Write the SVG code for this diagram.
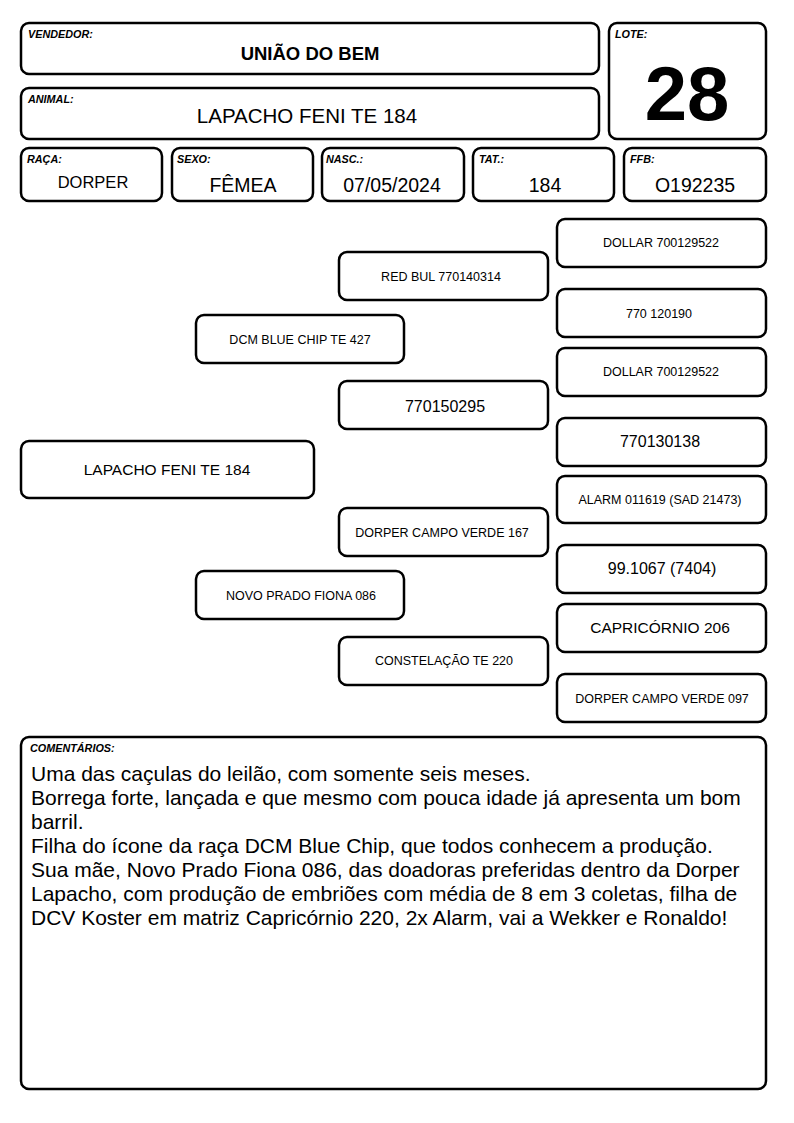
<svg xmlns="http://www.w3.org/2000/svg" width="794" height="1123" viewBox="0 0 794 1123">
<style>
rect{fill:#fff;stroke:#000;stroke-width:2.5}
text{font-family:"Liberation Sans",Arial,sans-serif;fill:#000}
.lb{font-size:10.8px;font-weight:bold;font-style:italic}
.c{text-anchor:middle}
.s{font-size:12.5px}
.m{font-size:15.5px}
.v{font-size:19.5px}
</style>
<rect width="794" height="1123" style="fill:#fff;stroke:none"/>
<g id="vendedor"><rect x="21" y="23" width="578" height="51" rx="8"/><text class="lb" x="28" y="38">VENDEDOR:</text><text x="310" y="60" class="c" style="font-size:18.5px;font-weight:bold">UNIÃO DO BEM</text></g>
<g id="animal"><rect x="21" y="88" width="578" height="51" rx="8"/><text class="lb" x="28" y="103">ANIMAL:</text><text x="307" y="123" class="c" style="font-size:20.5px">LAPACHO FENI TE 184</text></g>
<g id="lote"><rect x="609" y="23" width="157" height="116" rx="8"/><text class="lb" x="615" y="38">LOTE:</text><text x="687" y="120" class="c" style="font-size:76px;font-weight:bold">28</text></g>
<g id="raca"><rect x="21" y="148" width="141" height="53" rx="8"/><text class="lb" x="27" y="163">RAÇA:</text><text x="93" y="188" class="c" style="font-size:16.5px">DORPER</text></g>
<g id="sexo"><rect x="172" y="148" width="141" height="53" rx="8"/><text class="lb" x="177" y="163">SEXO:</text><text x="243" y="192" class="c v">FÊMEA</text></g>
<g id="nasc"><rect x="322" y="148" width="142" height="53" rx="8"/><text class="lb" x="326" y="163">NASC.:</text><text x="392" y="192" class="c v">07/05/2024</text></g>
<g id="tat"><rect x="473" y="148" width="141" height="53" rx="8"/><text class="lb" x="479" y="163">TAT.:</text><text x="545" y="192" class="c v">184</text></g>
<g id="ffb"><rect x="624" y="148" width="142" height="53" rx="8"/><text class="lb" x="630" y="163">FFB:</text><text x="695" y="192" class="c v">O192235</text></g>
<g id="connectors"></g>
<g id="p0"><rect x="21" y="441" width="293" height="57" rx="8"/><text x="167" y="475" class="c m">LAPACHO FENI TE 184</text></g>
<g id="p1"><rect x="196" y="315" width="208" height="48" rx="8"/><text x="300" y="344" class="c s">DCM BLUE CHIP TE 427</text></g>
<g id="p2"><rect x="196" y="571" width="208" height="48" rx="8"/><text x="301" y="600" class="c s">NOVO PRADO FIONA 086</text></g>
<g id="p3"><rect x="339" y="252" width="209" height="48" rx="8"/><text x="441" y="281" class="c s">RED BUL 770140314</text></g>
<g id="p4"><rect x="339" y="381" width="209" height="48" rx="8"/><text x="445" y="412" class="c" style="font-size:16px">770150295</text></g>
<g id="p5"><rect x="339" y="508" width="209" height="48" rx="8"/><text x="442" y="537" class="c s">DORPER CAMPO VERDE 167</text></g>
<g id="p6"><rect x="339" y="637" width="209" height="48" rx="8"/><text x="444" y="665" class="c s">CONSTELAÇÃO TE 220</text></g>
<g id="p7"><rect x="557" y="219" width="209" height="48" rx="8"/><text x="661" y="247" class="c s">DOLLAR 700129522</text></g>
<g id="p8"><rect x="557" y="289" width="209" height="48" rx="8"/><text x="659" y="318" class="c s">770 120190</text></g>
<g id="p9"><rect x="557" y="348" width="209" height="48" rx="8"/><text x="661" y="376" class="c s">DOLLAR 700129522</text></g>
<g id="p10"><rect x="557" y="418" width="209" height="48" rx="8"/><text x="660" y="447" class="c" style="font-size:16px">770130138</text></g>
<g id="p11"><rect x="557" y="476" width="209" height="47" rx="8"/><text x="660" y="504" class="c s">ALARM 011619 (SAD 21473)</text></g>
<g id="p12"><rect x="557" y="545" width="209" height="48" rx="8"/><text x="662" y="574" class="c" style="font-size:16px">99.1067 (7404)</text></g>
<g id="p13"><rect x="557" y="604" width="209" height="48" rx="8"/><text x="660" y="633" class="c m">CAPRICÓRNIO 206</text></g>
<g id="p14"><rect x="557" y="674" width="209" height="48" rx="8"/><text x="662" y="703" class="c s">DORPER CAMPO VERDE 097</text></g>
<g id="comentarios"><rect x="21" y="737" width="745" height="352" rx="8"/><text class="lb" x="30" y="752">COMENTÁRIOS:</text>
<text style="font-size:21px" x="31">
<tspan x="31" y="781">Uma das caçulas do leilão, com somente seis meses.</tspan>
<tspan x="31" y="805">Borrega forte, lançada e que mesmo com pouca idade já apresenta um bom</tspan>
<tspan x="31" y="829">barril.</tspan>
<tspan x="31" y="853">Filha do ícone da raça DCM Blue Chip, que todos conhecem a produção.</tspan>
<tspan x="31" y="877">Sua mãe, Novo Prado Fiona 086, das doadoras preferidas dentro da Dorper</tspan>
<tspan x="31" y="901">Lapacho, com produção de embriões com média de 8 em 3 coletas, filha de</tspan>
<tspan x="31" y="925">DCV Koster em matriz Capricórnio 220, 2x Alarm, vai a Wekker e Ronaldo!</tspan>
</text></g>
</svg>
